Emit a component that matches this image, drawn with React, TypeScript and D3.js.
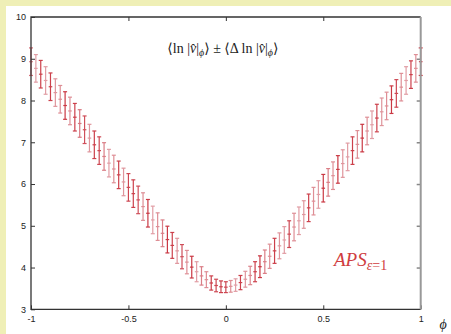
import { useEffect, useRef } from "react"
import * as d3 from "d3"

// phi grid, step 0.025
const phi = d3.range(81).map((i) => -1 + i * 0.025)

// center values <ln|v|>
const values = [
  8.93, 8.77, 8.63, 8.48, 8.33, 8.19, 8.03, 7.88, 7.75, 7.6, 7.45, 7.3, 7.1, 6.94, 6.8, 6.66, 6.5, 6.36, 6.22, 6.05,
  5.92, 5.77, 5.62, 5.46, 5.3, 5.14, 4.98, 4.82, 4.67, 4.53, 4.4, 4.26, 4.13, 4.01, 3.9, 3.8, 3.71, 3.63, 3.57, 3.54,
  3.53,
  3.55, 3.58, 3.64, 3.72, 3.81, 3.9, 4.02, 4.14, 4.27, 4.4, 4.52, 4.66, 4.8, 4.97, 5.12, 5.27, 5.43, 5.59, 5.75, 5.9,
  6.04, 6.2, 6.35, 6.49, 6.65, 6.8, 6.95, 7.1, 7.27, 7.42, 7.58, 7.73, 7.87, 8.02, 8.17, 8.32, 8.48, 8.62, 8.77, 8.93,
]

// half widths <Δ ln|v|>
const errors = [
  0.33, 0.33, 0.33, 0.33, 0.33, 0.33, 0.33, 0.33, 0.33, 0.33, 0.33, 0.33, 0.33, 0.33, 0.33, 0.33, 0.33, 0.33, 0.33, 0.33,
  0.33, 0.33, 0.33, 0.33, 0.33, 0.33, 0.33, 0.32, 0.32, 0.31, 0.3, 0.29, 0.28, 0.26, 0.24, 0.22, 0.19, 0.17, 0.15, 0.14,
  0.13,
  0.14, 0.15, 0.17, 0.19, 0.22, 0.24, 0.26, 0.28, 0.29, 0.3, 0.31, 0.32, 0.32, 0.33, 0.33, 0.33, 0.33, 0.33, 0.33, 0.33,
  0.33, 0.33, 0.33, 0.33, 0.33, 0.33, 0.33, 0.33, 0.33, 0.33, 0.33, 0.33, 0.33, 0.33, 0.33, 0.33, 0.33, 0.33, 0.33, 0.33,
]

// how dark each bar is drawn (0 pale pink .. 1 deep red)
const shades = [
  0.6, 0.3, 0.9, 0.3, 0.9, 0.35, 0.4, 0.95, 0.4, 0.9, 0.55, 0.8, 0.35, 0.9, 0.85, 0.5, 0.3, 0.4, 0.9, 0.35,
  0.85, 0.9, 0.8, 0.4, 0.95, 0.3, 0.4, 0.5, 0.95, 0.9, 0.35, 0.8, 0.4, 0.95, 0.3, 0.5, 0.4, 0.9, 0.85, 0.9,
  0.85,
  0.4, 0.3, 0.9, 0.35, 0.45, 0.9, 0.95, 0.5, 0.4, 0.9, 0.35, 0.3, 0.85, 0.4, 0.3, 0.35, 0.9, 0.4, 0.3, 0.95,
  0.5, 0.4, 0.95, 0.35, 0.3, 0.9, 0.4, 0.95, 0.4, 0.3, 0.9, 0.35, 0.4, 0.95, 0.85, 0.4, 0.3, 0.9, 0.4, 0.95,
]

const yTicks = [3, 4, 5, 6, 7, 8, 9, 10]
const xTicks = [-1, -0.5, 0, 0.5, 1]
const xTickLabels = ["-1", "-0.5", "0", "0.5", "1"]

export default function App() {
  const svgRef = useRef<SVGSVGElement>(null)

  useEffect(() => {
    if (!svgRef.current) return
    document.body.style.margin = "0"

    const svg = d3.select(svgRef.current)
    svg.selectAll("*").remove()

    const W = 451
    const H = 334
    const left = 31
    const right = 420.7
    const top = 17
    const bottom = 309.3

    // фон
    svg.append("rect").attr("width", W).attr("height", H).attr("fill", "#efefb6")
    svg.append("rect").attr("x", 6).attr("y", 6).attr("width", W - 6).attr("height", H - 6).attr("fill", "#fff")

    const x = d3.scaleLinear().domain([-1, 1]).range([left, right])
    const y = d3.scaleLinear().domain([3, 10]).range([bottom, top])
    const color = d3.interpolateRgb("#ecccd0", "#c8303c")

    const data = phi.map((p, i) => ({ p, v: values[i], e: errors[i], s: shades[i] }))

    // error bars
    const bars = svg.append("g").selectAll("g").data(data).enter().append("g")
      .attr("stroke", (d) => color(d.s))
      .attr("stroke-width", 1.2)
    bars.append("line")
      .attr("x1", (d) => x(d.p)).attr("x2", (d) => x(d.p))
      .attr("y1", (d) => y(d.v + d.e)).attr("y2", (d) => y(d.v - d.e))
    bars.append("line")
      .attr("x1", (d) => x(d.p) - 2).attr("x2", (d) => x(d.p) + 2)
      .attr("y1", (d) => y(d.v + d.e)).attr("y2", (d) => y(d.v + d.e))
    bars.append("line")
      .attr("x1", (d) => x(d.p) - 2).attr("x2", (d) => x(d.p) + 2)
      .attr("y1", (d) => y(d.v - d.e)).attr("y2", (d) => y(d.v - d.e))
    bars.append("line")
      .attr("x1", (d) => x(d.p) - 1.8).attr("x2", (d) => x(d.p) + 1.8)
      .attr("y1", (d) => y(d.v)).attr("y2", (d) => y(d.v))

    // оси
    const font = "'Liberation Sans', Arial, sans-serif"
    const gl = svg.append("g").attr("transform", `translate(${left},0)`)
      .call(d3.axisLeft(y).tickValues(yTicks).tickSize(-4).tickPadding(5).tickFormat((d) => String(d)))
    const gb = svg.append("g").attr("transform", `translate(0,${bottom})`)
      .call(d3.axisBottom(x).tickValues(xTicks).tickSize(-4).tickPadding(6).tickFormat((d, i) => xTickLabels[i]))
    const gt = svg.append("g").attr("transform", `translate(0,${top})`)
      .call(d3.axisTop(x).tickValues([-0.5, 0, 0.5]).tickSize(-4).tickFormat(() => ""))
    const gr = svg.append("g").attr("transform", `translate(${right},0)`)
      .call(d3.axisRight(y).tickValues(yTicks.slice(1, -1)).tickSize(-4).tickFormat(() => ""))
    for (const g of [gl, gb, gt, gr]) {
      g.select(".domain").remove()
      g.selectAll("text").style("font-family", font).style("font-size", "9px").attr("fill", "#222")
      g.selectAll("line").attr("stroke", "#333")
    }
    gr.selectAll("line").attr("stroke", "#888").attr("stroke-width", 1.5)

    // рамка
    svg.append("path")
      .attr("d", `M${right},${top}H${left}V${bottom}H${right}`)
      .attr("fill", "none").attr("stroke", "#333").attr("stroke-width", 1.3)
    svg.append("line")
      .attr("x1", right).attr("x2", right).attr("y1", top).attr("y2", bottom)
      .attr("stroke", "#999").attr("stroke-width", 2)

    // заголовок
    const serif = "'Liberation Serif', 'DejaVu Serif', serif"
    const title = svg.append("text")
      .attr("x", (left + right) / 2 - 3).attr("y", 53)
      .attr("text-anchor", "middle")
      .style("font-family", serif).style("font-size", "14px").attr("fill", "#222")
    title.append("tspan").text("⟨ln |")
    title.append("tspan").style("font-style", "italic").text("v̂")
    title.append("tspan").text("|")
    title.append("tspan").attr("dy", 3).style("font-size", "10px").style("font-style", "italic").text("ϕ")
    title.append("tspan").attr("dy", -3).text("⟩ ± ⟨Δ ln |")
    title.append("tspan").style("font-style", "italic").text("v̂")
    title.append("tspan").text("|")
    title.append("tspan").attr("dy", 3).style("font-size", "10px").style("font-style", "italic").text("ϕ")
    title.append("tspan").attr("dy", -3).text("⟩")

    // подпись серии
    const aps = svg.append("text")
      .attr("x", 334).attr("y", 266)
      .style("font-family", serif).style("font-size", "19px").attr("fill", "#d03c40")
    aps.append("tspan").style("font-style", "italic").text("APS")
    aps.append("tspan").attr("dy", 4).style("font-size", "14px").style("font-style", "italic").text("ε")
    aps.append("tspan").style("font-size", "14px").text("=1")

    // подпись оси x
    svg.append("text")
      .attr("x", 443).attr("y", 329).attr("text-anchor", "middle")
      .style("font-family", serif).style("font-size", "14px").style("font-style", "italic").attr("fill", "#222")
      .text("ϕ")
  }, [])

  return <svg ref={svgRef} width={451} height={334} style={{ display: "block" }} />
}
